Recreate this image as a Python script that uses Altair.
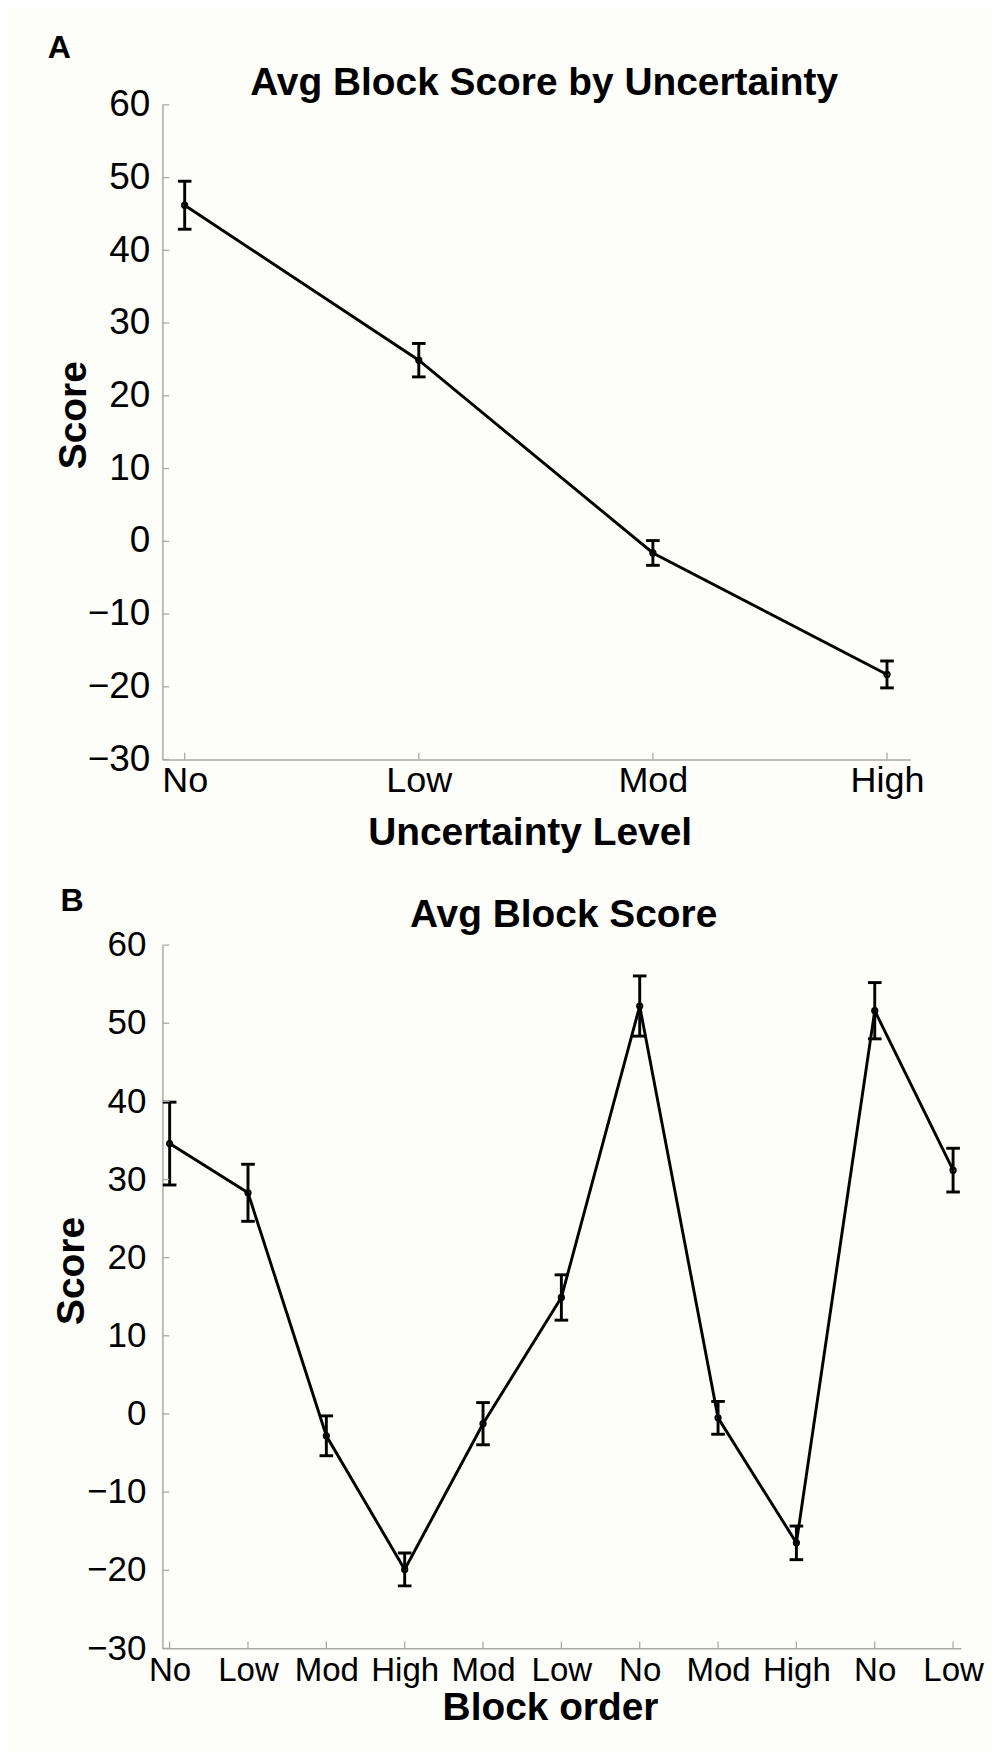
import json
import altair as alt
import pandas as pd

FONT = "Liberation Sans"
BG = "#fdfdfa"
GREY = "#a8a8a8"

# ---------------- data ----------------
# Panel A: average block score by uncertainty level
levels_a = ["No", "Low", "Mod", "High"]
means_a = [46.2, 24.9, -1.6, -18.3]
sems_a = [3.3, 2.3, 1.7, 1.85]

# Panel B: average block score in block order
order_b = ["No", "Low", "Mod", "High", "Mod", "Low", "No", "Mod", "High", "No", "Low"]
means_b = [34.6, 28.3, -2.8, -19.9, -1.25, 14.9, 52.2, -0.5, -16.5, 51.6, 31.2]
sems_b = [5.3, 3.65, 2.55, 2.1, 2.7, 2.9, 3.85, 2.1, 2.15, 3.6, 2.8]

y_ticks = [-30, -20, -10, 0, 10, 20, 30, 40, 50, 60]

TITLE_A = "Avg Block Score by Uncertainty"
TITLE_B = "Avg Block Score"
XTITLE_A = "Uncertainty Level"
XTITLE_B = "Block order"
YTITLE = "Score"

LW = 3.0


def panel(labels, means, sems, cfg):
    n = len(labels)
    W, H = cfg["W"], cfg["H"]
    df = pd.DataFrame({"pos": list(range(1, n + 1)), "label": labels,
                       "mean": means, "sem": sems})
    label_expr = json.dumps(labels) + "[datum.value - 1]"

    x_axis = alt.Axis(values=list(range(1, n + 1)), labelExpr=label_expr,
                      labelFont=FONT, labelFontSize=cfg["xlab"], labelColor="black",
                      labelPadding=cfg["xpad"], labelFlush=False, labelOverlap=False,
                      ticks=False, tickSize=0, grid=False,
                      domainColor=GREY, domainWidth=1.5,
                      title=cfg["xtitle"], titleFont=FONT, titleFontSize=40,
                      titleFontWeight="bold", titleColor="black",
                      titleX=cfg["xtx"], titleY=cfg["xty"], titleAngle=0,
                      titleAlign="center", titleBaseline="alphabetic")
    y_axis = alt.Axis(values=y_ticks, labelFont=FONT, labelFontSize=cfg["ylab"],
                      labelColor="black", labelPadding=cfg["ypad"], labelFlush=False,
                      labelOverlap=False, ticks=False, tickSize=0, grid=False,
                      domainColor=GREY, domainWidth=1.5,
                      title=YTITLE, titleFont=FONT, titleFontSize=40,
                      titleFontWeight="bold", titleColor="black",
                      titleX=cfg["ytx"], titleY=cfg["yty"], titleAngle=270,
                      titleAlign="center", titleBaseline="alphabetic")
    xs = alt.Scale(domain=cfg["xdom"], nice=False, zero=False)
    ys = alt.Scale(domain=[-30, 60], nice=False, zero=False)

    def X(f="pos:Q"):
        return alt.X(f, scale=xs, axis=x_axis)

    def Y(f):
        return alt.Y(f, scale=ys, axis=y_axis)

    base = alt.Chart(df).transform_calculate(
        lo="datum.mean - datum.sem", hi="datum.mean + datum.sem")

    line = base.mark_line(color="black", strokeWidth=LW).encode(x=X(), y=Y("mean:Q"))
    bars = base.mark_rule(color="black", strokeWidth=LW).encode(
        x=X(), y=Y("lo:Q"), y2="hi:Q")
    cap_lo = base.mark_tick(orient="horizontal", size=14, thickness=LW,
                            color="black", opacity=1).encode(x=X(), y=Y("lo:Q"))
    cap_hi = base.mark_tick(orient="horizontal", size=14, thickness=LW,
                            color="black", opacity=1).encode(x=X(), y=Y("hi:Q"))
    pts = base.mark_point(shape="circle", size=30, filled=False, color="black",
                          strokeWidth=2, opacity=1).encode(x=X(), y=Y("mean:Q"))

    yt = alt.Chart(pd.DataFrame({"t": y_ticks})).mark_rule(
        color=GREY, strokeWidth=1.3).encode(
        y=Y("t:Q"), x=alt.value(0), x2=alt.value(7))
    xt = alt.Chart(df).mark_rule(color=GREY, strokeWidth=1.3).encode(
        x=X(), y=alt.value(H), y2=alt.value(H - 7))

    ttl = alt.Chart(pd.DataFrame({"s": [cfg["title"]]})).mark_text(
        font=FONT, fontSize=40, fontWeight="bold", align="center",
        baseline="alphabetic", color="black").encode(
        text="s:N", x=alt.value(cfg["tx"]), y=alt.value(cfg["ty"]))
    let = alt.Chart(pd.DataFrame({"s": [cfg["letter"]]})).mark_text(
        font=FONT, fontSize=33, fontWeight="bold", align="left",
        baseline="alphabetic", color="black").encode(
        text="s:N", x=alt.value(cfg["lx"]), y=alt.value(cfg["ly"]))
    # invisible frame fixing the panel's outer bounds (layout only)
    frame = alt.Chart(pd.DataFrame({"a": [0]})).mark_rect(opacity=0).encode(
        x=alt.value(cfg["ax1"]), x2=alt.value(cfg["ax2"]),
        y=alt.value(cfg["ay1"]), y2=alt.value(cfg["ay2"]))

    return alt.layer(line, bars, cap_lo, cap_hi, pts, yt, xt, ttl, let, frame).properties(
        width=W, height=H)


cfg_a = dict(W=770, H=674, xdom=[0.905, 4.1], xlab=37, xpad=4, ylab=38, ypad=13,
             xtitle=XTITLE_A, xtx=378, xty=87, ytx=-79, yty=319,
             title=TITLE_A, tx=393, ty=-10, letter="A", lx=-118, ly=-48,
             ax1=-159, ax2=825, ay1=-74, ay2=788)
cfg_b = dict(W=822, H=724, xdom=[0.908, 11.1], xlab=34, xpad=6, ylab=36, ypad=17,
             xtitle=XTITLE_B, xtx=399, xty=73, ytx=-81, yty=335,
             title=TITLE_B, tx=413, ty=-19, letter="B", lx=-105, ly=-35,
             ax1=-130.3, ax2=853.7, ay1=-76.7, ay2=801)

chart_a = panel(levels_a, means_a, sems_a, cfg_a)
chart_b = panel(order_b, means_b, sems_b, cfg_b)

chart = alt.concat(chart_a, chart_b, columns=1, spacing=0, align="none",
                   bounds="full").configure_view(stroke=None).properties(
    background=BG, padding=0)

chart.save("out.html", embed_options={"renderer": "svg", "actions": False})
